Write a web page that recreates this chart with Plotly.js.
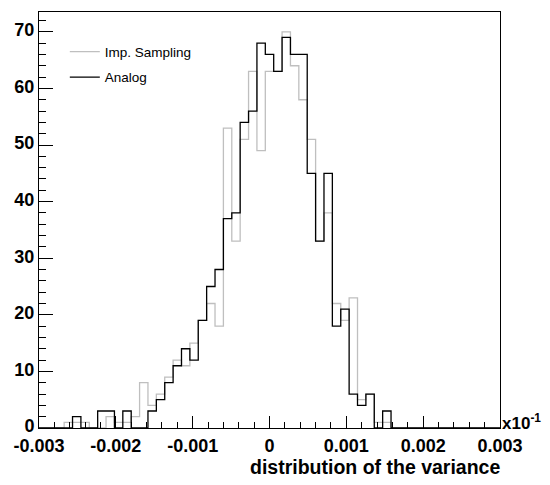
<!DOCTYPE html>
<html>
<head>
<meta charset="utf-8">
<script src="https://cdn.plot.ly/plotly-3.0.1.min.js"></script>
<style>
  html, body { margin: 0; padding: 0; background: #ffffff; }
  #chart { width: 550px; height: 485px; }
</style>
</head>
<body>
<div id="chart"></div>
<script>
// Histogram definition (55 bins between binLow and binHigh)
const binLow = -0.003;
const binHigh = 0.003;
const nBins = 55;

// Bin contents
const impSampling = [0,0,0,1,1,1,0,0,2,1,1,2,8,4,6,9,12,11,15,19,22,18,53,33,51,63,49,63,63,70,64,58,51,33,38,22,19,23,5,6,1,1,0,0,0,0,0,0,0,0,0,0,0,0,0];
const analog      = [0,0,0,0,2,0,0,3,3,0,3,0,0,3,5,8,11,14,12,19,25,28,37,38,54,56,68,66,63,69,66,66,45,33,45,18,21,6,4,6,0,3,0,0,0,0,0,0,0,0,0,0,0,0,0];

// Axis tick labels
const xTickVals = [-0.003, -0.002, -0.001, 0, 0.001, 0.002, 0.003];
const xTickText = ["-0.003", "-0.002", "-0.001", "0", "0.001", "0.002", "0.003"];
const yTickVals = [0, 10, 20, 30, 40, 50, 60, 70];
const yTickText = ["0", "10", "20", "30", "40", "50", "60", "70"];

const seriesNames = ["Imp. Sampling", "Analog"];
const xTitle = "distribution of the variance";
const xExponent = "x10<sup>-1</sup>";

function stairs(counts) {
  const w = (binHigh - binLow) / nBins;
  const xs = [], ys = [];
  for (let i = 0; i < counts.length; i++) { xs.push(binLow + i * w); ys.push(counts[i]); }
  xs.push(binHigh); ys.push(counts[counts.length - 1]);
  return {x: xs, y: ys};
}

const FONT = "Liberation Sans, Arial, Helvetica, sans-serif";
const s1 = stairs(impSampling), s2 = stairs(analog);

const traces = [
  {type: "scatter", mode: "lines", x: s1.x, y: s1.y, name: seriesNames[0],
   line: {shape: "hv", color: "#bfbfbf", width: 1.3}, legend: "legend", hoverinfo: "x+y"},
  {type: "scatter", mode: "lines", x: s2.x, y: s2.y, name: seriesNames[1],
   line: {shape: "hv", color: "#000000", width: 1.3}, legend: "legend2", hoverinfo: "x+y"}
];

const tickFont = {family: FONT, size: 18, color: "#000", weight: "bold"};

const layout = {
  width: 550, height: 485,
  margin: {l: 39, r: 50, t: 12, b: 57, pad: 0},
  paper_bgcolor: "#fff", plot_bgcolor: "#fff",
  showlegend: true,
  xaxis: {
    range: [binLow, binHigh], tickmode: "array", tickvals: xTickVals, ticktext: xTickText,
    ticks: "inside", ticklen: 12, tickwidth: 1, tickcolor: "#000",
    minor: {tickmode: "linear", tick0: binLow, dtick: 0.0002, ticks: "inside", ticklen: 6, tickwidth: 1, tickcolor: "#000", showgrid: false},
    showline: true, linecolor: "#000", linewidth: 1, mirror: true,
    showgrid: false, zeroline: false, tickfont: tickFont, ticklabelstandoff: 1
  },
  yaxis: {
    range: [0, 73.5], tickmode: "array", tickvals: yTickVals, ticktext: yTickText,
    ticks: "inside", ticklen: 14, tickwidth: 1, tickcolor: "#000",
    minor: {tickmode: "linear", tick0: 0, dtick: 2, ticks: "inside", ticklen: 7, tickwidth: 1, tickcolor: "#000", showgrid: false},
    showline: true, linecolor: "#000", linewidth: 1, mirror: true,
    showgrid: false, zeroline: false, tickfont: tickFont, ticklabelstandoff: 0, ticklabelshift: -2
  },
  legend: {x: 0.056, y: 0.904, xanchor: "left", yanchor: "middle", bgcolor: "rgba(0,0,0,0)", borderwidth: 0,
           font: {family: FONT, size: 13.5, color: "#000"}},
  legend2: {x: 0.056, y: 0.843, xanchor: "left", yanchor: "middle", bgcolor: "rgba(0,0,0,0)", borderwidth: 0,
           font: {family: FONT, size: 13.5, color: "#000"}},
  annotations: [
    {text: xTitle, xref: "paper", yref: "paper", x: 1, y: 0, xanchor: "right", yanchor: "middle",
     yshift: -39, xshift: 2, showarrow: false, font: {family: FONT, size: 19.5, color: "#000", weight: "bold"}},
    {text: xExponent, xref: "paper", yref: "paper", x: 1, y: 0, xanchor: "left", yanchor: "bottom",
     yshift: -7, xshift: 0, showarrow: false, font: {family: FONT, size: 17, color: "#000", weight: "bold"}}
  ]
};

Plotly.newPlot("chart", traces, layout, {displayModeBar: false, staticPlot: true});
</script>
</body>
</html>
